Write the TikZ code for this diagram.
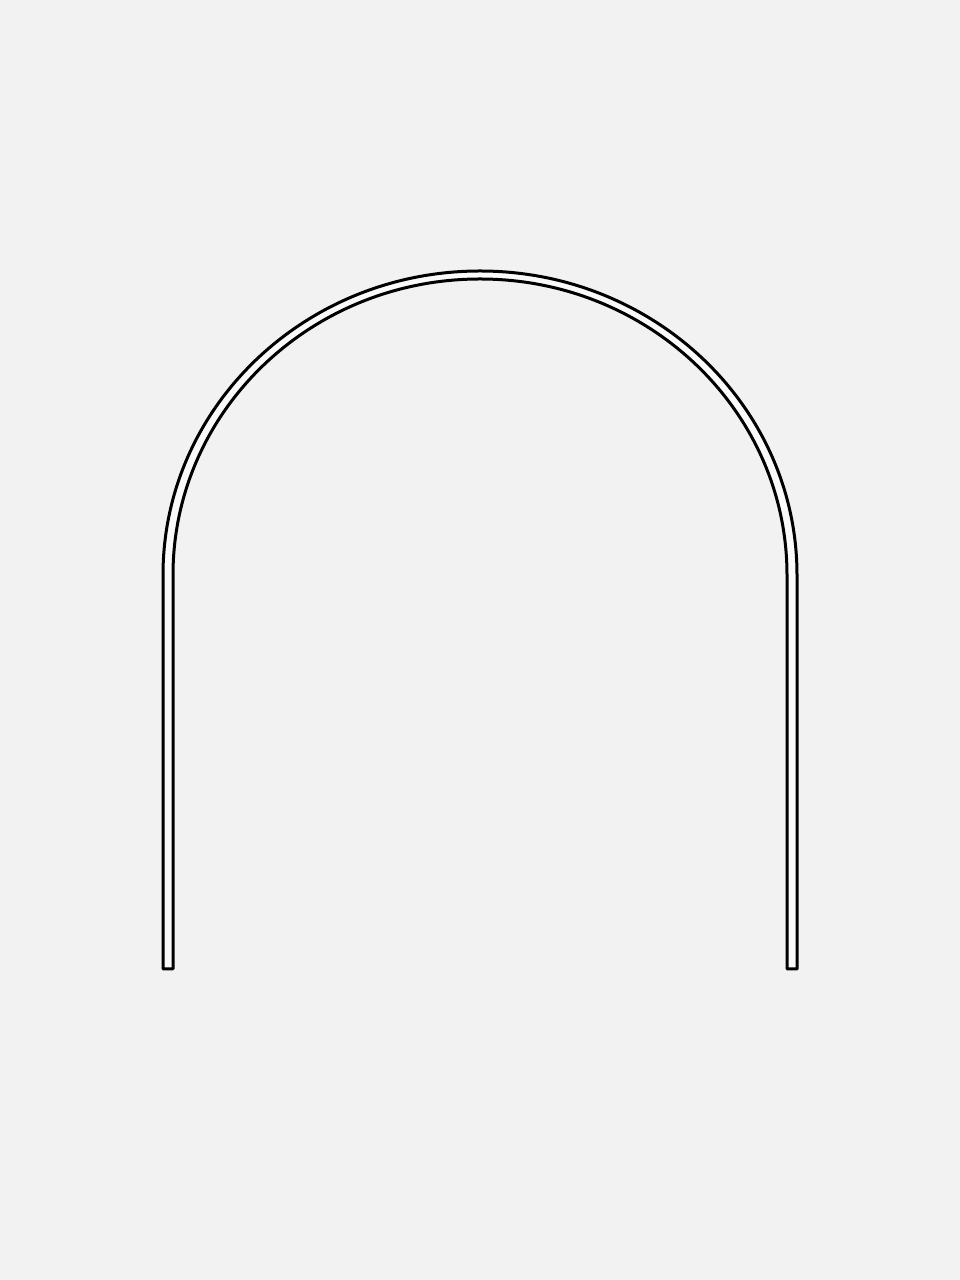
\documentclass[tikz,border=0pt]{standalone}
\definecolor{bg}{HTML}{F2F2F2}
\begin{document}
\begin{tikzpicture}[x=1pt,y=1pt,archline/.style={draw=black,line width=3pt,line join=round,fill=white!60!bg}]
\fill[bg] (0,0) rectangle (960,1280);
\useasboundingbox (0,0) rectangle (960,1280);
\draw[archline] (163,311) -- (163,705)
  arc[start angle=180,end angle=0,x radius=317,y radius=304]
  -- (797,311) -- (787,311) -- (787,705)
  arc[start angle=0,end angle=180,x radius=307,y radius=296]
  -- (173,311) -- cycle;
\end{tikzpicture}
\end{document}
